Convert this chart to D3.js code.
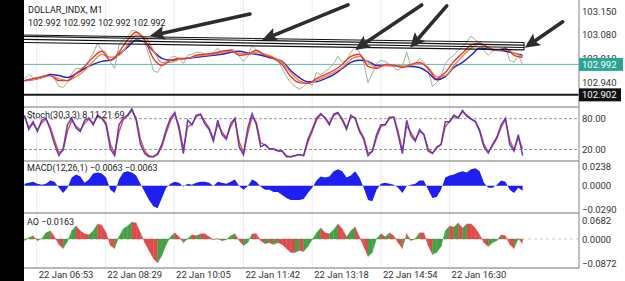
<!DOCTYPE html>
<html><head><meta charset="utf-8">
<script src="https://cdn.jsdelivr.net/npm/d3@7"></script>
<style>
html,body{margin:0;padding:0;background:#fff;}
svg{display:block;font-family:Roboto,"Noto Sans",sans-serif;}
</style></head><body>
<svg id="c" width="625" height="281"></svg>
<script>
// ---------- DATA ----------
const symbolTitle = "DOLLAR_INDX, M1";
const ohlcText = "102.992 102.992 102.992 102.992";
const startMinute = 396;      // 06:36, minutes after midnight
const stepMinutes = 6;
const maStepMinutes = 12;

const price = [
102.950,102.962,102.953,102.950,102.956,102.959,102.962,102.950,102.927,102.924,
102.938,102.965,102.980,102.980,102.986,103.004,103.025,103.055,103.034,103.028,
102.998,102.980,103.049,103.064,103.073,103.093,103.090,103.081,103.058,103.019,
102.974,102.968,102.992,102.998,103.013,103.016,103.010,102.995,103.019,103.022,
103.028,103.028,103.022,103.019,103.028,103.040,103.025,103.025,103.037,103.034,
103.016,103.001,103.016,103.049,103.034,103.022,103.016,103.010,103.007,103.004,
102.980,102.956,102.938,102.927,102.918,102.927,102.938,102.930,102.968,102.962,
102.971,102.980,102.995,103.016,102.998,103.004,103.028,103.043,103.028,102.998,
102.938,102.965,102.995,103.004,103.001,102.992,102.983,102.974,102.986,103.028,
102.986,102.995,103.010,102.998,102.974,102.927,102.938,102.956,102.995,103.010,
103.019,103.034,103.043,103.058,103.076,103.064,103.058,103.034,103.019,103.031,
103.034,103.034,103.043,103.004,102.998,103.019,102.992];

const maRed = [
102.944,102.950,102.956,102.959,102.944,102.944,102.965,102.986,103.013,103.031,
103.004,103.028,103.064,103.087,103.064,103.010,102.989,103.004,103.010,103.010,
103.019,103.022,103.025,103.031,103.034,103.019,103.022,103.034,103.019,103.010,
102.992,102.956,102.938,102.936,102.950,102.962,102.974,102.992,103.016,103.022,
102.986,102.980,102.992,102.989,102.983,102.992,102.998,102.980,102.950,102.968,
103.001,103.025,103.049,103.055,103.040,103.034,103.040,103.019,103.013];

const maOrange = [
102.944,102.947,102.953,102.959,102.950,102.944,102.956,102.974,103.001,103.022,
103.013,103.019,103.049,103.079,103.073,103.034,102.998,102.998,103.007,103.010,
103.016,103.019,103.022,103.028,103.031,103.025,103.022,103.028,103.022,103.013,
102.998,102.968,102.944,102.936,102.944,102.956,102.968,102.983,103.007,103.016,
102.998,102.983,102.989,102.989,102.986,102.989,102.995,102.983,102.956,102.959,
102.989,103.016,103.040,103.052,103.043,103.034,103.037,103.025,103.016];

const maBlue = [
102.944,102.947,102.953,102.962,102.959,102.953,102.965,102.980,102.992,103.001,
103.004,103.022,103.043,103.064,103.058,103.031,103.010,103.004,103.007,103.010,
103.013,103.016,103.019,103.022,103.028,103.031,103.025,103.022,103.016,103.010,
103.001,102.974,102.953,102.941,102.941,102.950,102.962,102.980,102.998,103.004,
103.001,102.989,102.989,102.989,102.986,102.986,102.983,102.968,102.947,102.956,
102.983,102.998,103.019,103.040,103.037,103.034,103.031,103.025,103.019];

const stochMain = [
87,59,74,55,77,81,59,30,8,21,
68,81,62,55,77,81,68,87,81,68,
21,8,68,81,87,99,77,30,12,6,
6,12,30,59,81,92,59,12,77,68,
87,89,70,59,36,77,49,40,70,81,
25,10,62,90,68,25,30,21,21,17,
17,6,6,8,10,8,40,59,81,90,
81,68,89,92,77,59,87,81,55,40,
8,17,49,68,68,83,83,49,12,77,
47,36,59,49,17,12,25,30,74,74,
87,81,96,85,79,74,55,25,13,30,
44,68,81,30,17,49,8.11];

const stochSignal = [
84,64,70,58,72,79,64,38,14,18,
56,76,66,58,71,79,71,84,82,72,
30,12,54,78,85,96,82,40,17,8,
6,10,26,52,76,89,66,21,64,69,
84,88,75,62,41,69,54,43,64,79,
35,14,51,83,73,33,29,22,21,18,
17,8,6,8,10,8,34,55,77,88,
83,71,86,91,80,63,83,82,59,44,
13,16,43,65,68,80,83,56,18,66,
53,39,55,50,22,13,23,29,65,74,
84,83,93,87,80,75,59,30,16,27,
41,63,79,38,20,43,21.69];

const macd = [
0.0024,0.0036,0.0049,0.0024,0.0011,0.0024,0.0062,0.0049,-0.0026,-0.0089,
-0.0026,0.0099,0.0137,0.0112,0.0036,0.0074,0.0150,0.0162,0.0150,0.0099,
-0.0052,-0.0089,0.0074,0.0162,0.0175,0.0162,0.0125,0.0024,-0.0077,-0.0177,
-0.0253,-0.0278,-0.0152,-0.0026,0.0024,0.0049,0.0036,-0.0014,0.0024,0.0011,
0.0036,0.0049,0.0049,0.0036,-0.0005,0.0049,0.0036,0.0024,0.0049,0.0074,
-0.0005,-0.0052,-0.0005,0.0074,0.0049,-0.0014,-0.0052,-0.0052,-0.0077,-0.0077,
-0.0115,-0.0152,-0.0177,-0.0177,-0.0177,-0.0165,-0.0089,-0.0026,0.0062,0.0112,
0.0099,0.0112,0.0175,0.0200,0.0175,0.0099,0.0125,0.0175,0.0099,-0.0026,
-0.0177,-0.0190,-0.0052,0.0024,0.0036,0.0024,0.0011,-0.0026,-0.0089,-0.0005,
0.0011,0.0024,0.0062,0.0062,-0.0052,-0.0152,-0.0140,-0.0052,0.0099,0.0125,
0.0137,0.0162,0.0175,0.0162,0.0200,0.0213,0.0175,0.0036,-0.0026,-0.0026,
0.0011,0.0062,0.0049,-0.0052,-0.0089,-0.0026,-0.0063];

const ao = [
-0.0060,0.0046,0.0117,-0.0060,0.0011,0.0223,0.0293,0.0081,-0.0201,-0.0343,
-0.0095,0.0293,0.0470,0.0293,0.0187,0.0152,0.0293,0.0541,0.0505,0.0223,
-0.0237,-0.0343,0.0081,0.0364,0.0470,0.0611,0.0576,0.0223,-0.0131,-0.0414,
-0.0696,-0.0860,-0.0590,-0.0201,0.0081,0.0223,0.0081,-0.0131,0.0011,0.0152,
0.0117,0.0187,0.0187,0.0081,-0.0025,0.0011,-0.0060,-0.0025,0.0117,0.0187,
-0.0060,-0.0237,-0.0131,0.0187,0.0187,-0.0060,-0.0166,-0.0131,-0.0201,-0.0131,
-0.0201,-0.0343,-0.0484,-0.0484,-0.0414,-0.0449,-0.0272,-0.0025,0.0223,0.0399,
0.0223,0.0187,0.0329,0.0541,0.0364,0.0081,0.0293,0.0435,0.0081,-0.0272,
-0.0626,-0.0484,0.0011,0.0187,0.0081,0.0223,0.0117,-0.0131,-0.0343,0.0187,
-0.0060,0.0011,0.0223,0.0223,-0.0237,-0.0555,-0.0484,-0.0272,0.0293,0.0470,
0.0435,0.0576,0.0399,0.0541,0.0541,0.0399,0.0152,-0.0131,-0.0272,-0.0131,
-0.0060,0.0152,0.0117,-0.0201,-0.0343,0.0011,-0.0163];

const timeTicks = [413,509,605,702,798,894,990];
const timeTickLabels = ["22 Jan 06:53","22 Jan 08:29","22 Jan 10:05","22 Jan 11:42","22 Jan 13:18","22 Jan 14:54","22 Jan 16:30"];
const priceTicks = [103.150,103.080,103.010,102.940];
const bidPrice = 102.992;
const levelPrice = 102.902;
const stochLevels = [80,20];
const macdTicks = [0.0238,0,-0.0290];
const aoTicks = [0.0682,0,-0.0872];
// trend lines: [minute0, price0, minute1, price1]
const trendLines = [
  [395,103.079,1094,103.057],
  [395,103.075,1094,103.049],
  [395,103.066,1094,103.042],
  [395,103.057,1094,103.035]];
// arrows: [tailMinute, tailPrice, tipMinute, tipPrice]
const arrows = [
  [711,103.141,571,103.076],
  [848,103.168,728,103.064],
  [951,103.168,858,103.035],
  [986,103.165,935,103.041],
  [1148,103.118,1095,103.041]];

// ---------- LAYOUT ----------
const W=625,H=281,L=24,R=579;
const P={main:[0,107],stoch:[107,161],macd:[161,213],ao:[213,268]};
const svg=d3.select("#c");
svg.append("rect").attr("width",W).attr("height",H).attr("fill","#fff");

const x=d3.scaleLinear().domain([395.3,1170.8]).range([L,R]);
const yP=d3.scaleLinear().domain([102.940,103.150]).range([82,11]);
const yS=d3.scaleLinear().domain([20,80]).range([149.5,118.7]);
const yM=d3.scaleLinear().domain([-0.0290,0.0238]).range([209.3,166.2]);
const yA=d3.scaleLinear().domain([-0.0872,0.0682]).range([263.3,220]);

const tOf=i=>startMinute+i*stepMinutes;
const tMa=i=>startMinute+i*maStepMinutes;

const defs=svg.append("defs");
Object.entries(P).forEach(([k,[a,b]])=>{
  defs.append("clipPath").attr("id","clip-"+k).append("rect")
    .attr("x",L).attr("y",a).attr("width",R-L).attr("height",b-a);
});
const g=k=>svg.append("g").attr("clip-path",`url(#clip-${k})`);

// faint vertical grid
svg.append("g").selectAll("line").data(timeTicks).join("line")
  .attr("x1",d=>x(d)).attr("x2",d=>x(d)).attr("y1",0).attr("y2",268)
  .attr("stroke","#ececec").attr("stroke-width",1);

// ---- main panel ----
const gm=g("main");
gm.append("line").attr("x1",L).attr("x2",R).attr("y1",yP(bidPrice)).attr("y2",yP(bidPrice))
  .attr("stroke","#62bdb3").attr("stroke-width",1);
gm.append("line").attr("x1",L).attr("x2",R).attr("y1",yP(levelPrice)).attr("y2",yP(levelPrice))
  .attr("stroke","#1a1a1a").attr("stroke-width",2);

const lineMain=d3.line().x((d,i)=>x(tOf(i))).y(d=>yP(d));
const lineMa=d3.line().x((d,i)=>x(tMa(i))).y(d=>yP(d)).curve(d3.curveMonotoneX);
gm.append("path").datum(price).attr("d",lineMain).attr("fill","none")
  .attr("stroke","#9cb39c").attr("stroke-width",1);
gm.append("path").datum(maBlue).attr("d",lineMa).attr("fill","none")
  .attr("stroke","#2626c8").attr("stroke-width",1.5);
gm.append("path").datum(maOrange).attr("d",lineMa).attr("fill","none")
  .attr("stroke","#f08a3c").attr("stroke-width",1.4);
gm.append("path").datum(maRed).attr("d",lineMa).attr("fill","none")
  .attr("stroke","#e23a3a").attr("stroke-width",1.4);

// trend lines
gm.selectAll("line.tl").data(trendLines).join("line").attr("class","tl")
  .attr("x1",d=>x(d[0])).attr("y1",d=>yP(d[1])).attr("x2",d=>x(d[2])).attr("y2",d=>yP(d[3]))
  .attr("stroke","#111").attr("stroke-width",1.1);
gm.append("line")
  .attr("x1",x(trendLines[0][2])).attr("x2",x(trendLines[0][2]))
  .attr("y1",yP(trendLines[0][3])).attr("y2",yP(trendLines[3][3]))
  .attr("stroke","#111").attr("stroke-width",1.1);

// arrows
arrows.forEach(a=>{
  const x1=x(a[0]),y1=yP(a[1]),x2=x(a[2]),y2=yP(a[3]);
  const dx=x2-x1,dy=y2-y1,len=Math.hypot(dx,dy),ux=dx/len,uy=dy/len;
  const hl=15,hw=7;
  const bx=x2-ux*hl,by=y2-uy*hl;
  gm.append("line").attr("x1",x1).attr("y1",y1).attr("x2",bx+ux*2).attr("y2",by+uy*2)
    .attr("stroke","#2d2d2d").attr("stroke-width",3.6).attr("stroke-linecap","round");
  gm.append("path").attr("d",`M${x2},${y2}L${bx-uy*hw},${by+ux*hw}L${bx+ux*3},${by+uy*3}L${bx+uy*hw},${by-ux*hw}Z`)
    .attr("fill","#2d2d2d");
});

// ---- stoch ----
const gs=g("stoch");
gs.selectAll("line.lv").data(stochLevels).join("line").attr("class","lv")
  .attr("x1",L).attr("x2",R).attr("y1",d=>yS(d)).attr("y2",d=>yS(d))
  .attr("stroke","#777").attr("stroke-width",0.8).attr("stroke-dasharray","3,2");
const lineS=d3.line().x((d,i)=>x(tOf(i))).y(d=>yS(d));
gs.append("path").datum(stochSignal).attr("d",lineS).attr("fill","none")
  .attr("stroke","#e8503a").attr("stroke-width",1.4);
gs.append("path").datum(stochMain).attr("d",lineS).attr("fill","none")
  .attr("stroke","#5232bd").attr("stroke-width",1.5).attr("opacity",0.92);

// ---- macd ----
const gM=g("macd");
gM.append("path").datum(macd)
  .attr("d",d3.area().x((d,i)=>x(tOf(i))).y0(yM(0)).y1(d=>yM(d)))
  .attr("fill","#1f1ff2");

// ---- ao (histogram as filled segments coloured by direction) ----
const gA=g("ao");
gA.append("line").attr("x1",L).attr("x2",R).attr("y1",yA(0)).attr("y2",yA(0))
  .attr("stroke","#bbb").attr("stroke-width",0.8).attr("stroke-dasharray","3,3");
const aoSeg=d3.range(1,ao.length).map(i=>({i,a:ao[i-1],b:ao[i],up:ao[i]>ao[i-1]}));
gA.selectAll("path.seg").data(aoSeg).join("path").attr("class","seg")
  .attr("d",s=>{
    const xa=x(tOf(s.i-1)),xb=x(tOf(s.i)),z=yA(0);
    return `M${xa},${z}L${xa},${yA(s.a)}L${xb},${yA(s.b)}L${xb},${z}Z`;
  })
  .attr("fill",s=>s.up?"#45a045":"#dd4c4c")
  .attr("stroke",s=>s.up?"#45a045":"#dd4c4c").attr("stroke-width",0.3);

// ---- separators & frame ----
[107,161,213,268].forEach(yv=>svg.append("line").attr("x1",L).attr("x2",R).attr("y1",yv).attr("y2",yv)
  .attr("stroke","#a0a0a0").attr("stroke-width",1.3));
svg.append("line").attr("x1",R).attr("x2",R).attr("y1",0).attr("y2",268)
  .attr("stroke","#a0a0a0").attr("stroke-width",1.3);

// ---- axes ----
const fs="9.5px", tc="#333";
function styleAxis(sel){
  sel.select(".domain").remove();
  sel.selectAll("text").attr("fill",tc).style("font-size",fs).style("font-family","Roboto,sans-serif");
}
svg.append("g").attr("transform",`translate(${R},0)`)
  .call(d3.axisRight(yP).tickValues(priceTicks).tickFormat(d3.format(".3f")).tickSize(0).tickPadding(3)).call(styleAxis);
svg.append("g").attr("transform",`translate(${R},0)`)
  .call(d3.axisRight(yS).tickValues(stochLevels).tickFormat(d3.format(".2f")).tickSize(0).tickPadding(3)).call(styleAxis);
svg.append("g").attr("transform",`translate(${R},0)`)
  .call(d3.axisRight(yM).tickValues(macdTicks).tickFormat(d3.format(".4f")).tickSize(0).tickPadding(3)).call(styleAxis);
svg.append("g").attr("transform",`translate(${R},0)`)
  .call(d3.axisRight(yA).tickValues(aoTicks).tickFormat(d3.format(".4f")).tickSize(0).tickPadding(3)).call(styleAxis);
const xa=svg.append("g").attr("transform","translate(0,268)")
  .call(d3.axisBottom(x).tickValues(timeTicks).tickFormat((d,i)=>timeTickLabels[i]).tickSize(0).tickPadding(3));
styleAxis(xa);
xa.selectAll("text").attr("text-anchor","start").attr("x",1.5);

// price tags
function tag(val,fill,w){
  const yy=yP(val);
  svg.append("rect").attr("x",R).attr("y",yy-6.5).attr("width",w).attr("height",13).attr("fill",fill);
  svg.append("text").attr("x",R+3).attr("y",yy+3.4).attr("fill","#fff")
    .style("font-size",fs).text(d3.format(".3f")(val));
}
tag(bidPrice,"#2ba597",44);
tag(levelPrice,"#111",42);

// ---- labels ----
const lab=(t,xx,yy)=>svg.append("text").attr("x",xx).attr("y",yy).attr("fill","#222").style("font-size","9px").text(t);
lab(symbolTitle,28,13);
lab(ohlcText,28,25.5);
const f2=d3.format(".2f"),f4=d3.format(".4f");
lab(`Stoch(30,3,3) ${f2(stochMain[stochMain.length-1])} ${f2(stochSignal[stochSignal.length-1])}`,27,118);
lab(`MACD(12,26,1) ${f4(macd[macd.length-1])} ${f4(macd[macd.length-1])}`,27,171);
lab(`AO ${f4(ao[ao.length-1])}`,27,225);

// left black strip
svg.append("rect").attr("x",0).attr("y",0).attr("width",L).attr("height",H).attr("fill","#000");
</script></body></html>
